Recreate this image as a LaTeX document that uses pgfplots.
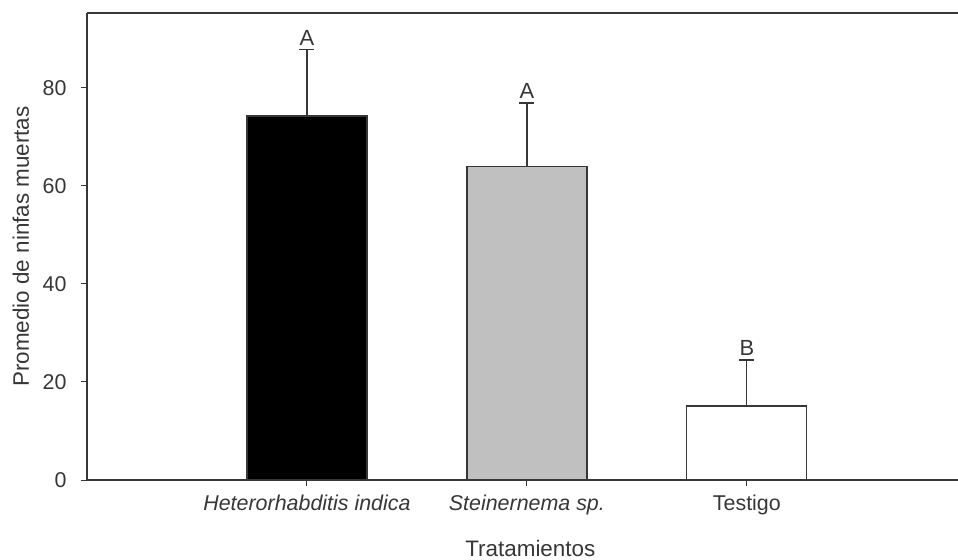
\documentclass[border=0pt]{standalone}
\usepackage{fontspec}
\setmainfont{Liberation Sans}
\usepackage{pgfplots}
\pgfplotsset{compat=1.18}

\definecolor{axisgray}{RGB}{55,55,55}
\definecolor{bargray}{RGB}{192,192,192}

\begin{document}
\fontsize{22}{26}\selectfont
\begin{tikzpicture}
\begin{axis}[
    scale only axis,
    width=871bp, height=467bp,
    xmin=0, xmax=3.96,
    ymin=0, ymax=95.3,
    axis lines=left,
    axis line style={-, axisgray, line width=1.4pt},
    tick style={axisgray, line width=1pt},
    tick align=outside,
    major tick length=6bp,
    xtick={1,2,3},
    xticklabels={\textit{Heterorhabditis indica}, \textit{Steinernema sp.}, Testigo},
    ytick={0,20,40,60,80},
    /pgf/number format/assume math mode=true,
    ticklabel style={font=\fontsize{21.5}{26}\selectfont, text=axisgray},
    yticklabel style={xshift=-7bp},
    xticklabel style={yshift=-1bp},
    xlabel={Tratamientos},
    ylabel={Promedio de ninfas muertas},
    label style={font=\fontsize{22.5}{26}\selectfont, text=axisgray},
    xlabel style={at={(axis description cs:0.509,-0.1456)}, anchor=center},
    ylabel style={at={(axis description cs:-0.0758,0.5)}, anchor=center},
    ybar, bar width=120bp, bar shift=0pt,
    error bars/y dir=plus,
    error bars/y explicit,
    error bars/error bar style={axisgray, line width=1.2pt},
    error bars/error mark options={rotate=90, mark size=7.5bp, line width=1.5pt, axisgray},
    clip=false,
]
\addplot[fill=black, draw=axisgray, line width=1.2pt] coordinates {(1,74.3) +- (0,13.5)};
\addplot[fill=bargray, draw=axisgray, line width=1.2pt] coordinates {(2,63.9) +- (0,13.0)};
\addplot[fill=white, draw=axisgray, line width=1.2pt] coordinates {(3,15.1) +- (0,9.4)};

\draw[axisgray, line width=1.8pt] (rel axis cs:0,1) -- (rel axis cs:1,1);

\node[anchor=south, text=axisgray, inner sep=0pt, font=\fontsize{22}{26}\selectfont] at (axis cs:1,87.8) [yshift=4bp] {A};
\node[anchor=south, text=axisgray, inner sep=0pt, font=\fontsize{22}{26}\selectfont] at (axis cs:2,76.9) [yshift=4bp] {A};
\node[anchor=south, text=axisgray, inner sep=0pt, font=\fontsize{22}{26}\selectfont] at (axis cs:3,24.5) [yshift=4bp] {B};
\end{axis}
\pgfresetboundingbox
\useasboundingbox (-87bp,-80bp) rectangle (871bp,480bp);
\end{tikzpicture}
\end{document}
